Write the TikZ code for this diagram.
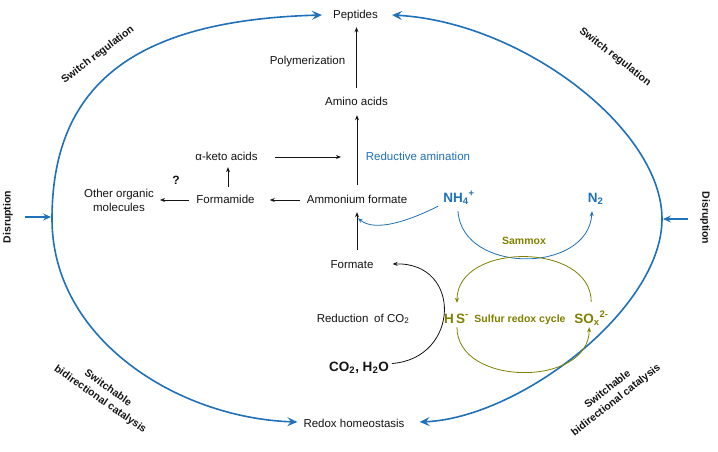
\documentclass[tikz,border=0pt]{standalone}
\usepackage{fontspec}
\setmainfont{Liberation Sans}
\usetikzlibrary{arrows.meta,calc}
\definecolor{cblue}{RGB}{31,113,185}
\definecolor{colive}{RGB}{128,128,0}
\definecolor{cblack}{RGB}{20,20,20}
\begin{document}
\begin{tikzpicture}[x=1pt,y=-1pt,
  lbl/.style={anchor=base,inner sep=0pt,font=\fontsize{11.5}{13}\selectfont,text height=8pt,text depth=2pt,text=cblack},
  olbl/.style={anchor=base,inner sep=0pt,font=\bfseries\fontsize{10.5}{12}\selectfont,text height=8pt,text depth=2pt,text=colive},
  chem/.style={anchor=base,inner sep=0pt,font=\bfseries\fontsize{13.5}{15}\selectfont,text height=10pt,text depth=3pt},
  side/.style={inner sep=0pt,font=\bfseries\fontsize{10.5}{13.5}\selectfont,align=center,text=cblack},
  arr/.style={draw=cblack,line width=0.8pt,-{Stealth[length=5pt,width=4pt]}},
  barr/.style={draw=cblue,line width=0.8pt,-{Stealth[length=5pt,width=4pt]}},
  oarr/.style={draw=colive,line width=0.8pt,-{Stealth[length=5pt,width=4pt]}},
  bigarr/.style={draw=cblue,line width=1.6pt,-{Stealth[length=10pt,width=9pt,inset=4pt]}},
  disarr/.style={draw=cblue,line width=1.1pt,-{Stealth[length=8pt,width=7pt,inset=3pt]}},
]
\useasboundingbox (0,0) rectangle (718,451);
\fill[white] (0,0) rectangle (718,451);

% ---- text nodes ----
\node[lbl] (pep) at (355.5,18) {Peptides};
\node[lbl] (poly) at (307.5,64) {Polymerization};
\node[lbl] (amino) at (356.5,105) {Amino acids};
\node[lbl] (keto) at (226.5,160) {α-keto acids};
\node[lbl,text=cblue] (redam) at (418,160) {Reductive amination};
\node[lbl,font=\bfseries\fontsize{12}{14}\selectfont] (q) at (176,184) {?};
\node[inner sep=0pt,font=\fontsize{11.5}{14}\selectfont,align=center,text=cblack] (other) at (119,200) {Other organic\\molecules};
\node[lbl] (fmd) at (225.5,203) {Formamide};
\node[lbl] (amf) at (357,203) {Ammonium formate};
\node[lbl] (fmt) at (352,268) {Formate};
\node[lbl] (red) at (363,322) {Reduction\hspace{2.5pt} of CO\textsubscript{2}};
\node[chem,text=cblack] (co2) at (359,371) {CO\textsubscript{2}, H\textsubscript{2}O};
\node[lbl] (redox) at (354,427) {Redox homeostasis};
\node[chem,text=cblue] (nh4) at (459,202) {NH\textsubscript{4}\textsuperscript{+}};
\node[chem,text=cblue] (n2) at (595.5,202) {N\textsubscript{2}};
\node[olbl] (sam) at (524,244) {Sammox};
\node[chem,text=colive] (hs) at (456.5,323) {H\,S\textsuperscript{-}};
\node[olbl] (sul) at (520,322) {Sulfur redox cycle};
\node[chem,text=colive] (sox) at (591.5,323) {SO\textsubscript{x}\textsuperscript{2-}};

% ---- side labels ----
\node[side,rotate=90] (disl) at (8,217) {Disruption};
\node[side,rotate=-90] (disr) at (705,218) {Disruption};
\node[side,rotate=37] (swl) at (98,55) {Switch regulation};
\node[side,rotate=-38] (swr) at (615,57) {Switch regulation};
\node[side,rotate=-35] (sbl) at (104,394) {Switchable\\bidirectional catalysis};
\node[side,rotate=38] (sbr) at (612,395) {Switchable\\bidirectional catalysis};

% ---- big blue cycle ----
\coordinate (L) at (52,219);
\coordinate (R) at (662,219);
\draw[bigarr] (L) .. controls +(0,-140) and +(-180,5) .. ([shift={(-11,0)}]pep.west);
\draw[bigarr] (R) .. controls +(0,-90) and +(130,7) .. ([shift={(14,0)}]pep.east);
\draw[bigarr] (L) .. controls +(0,120) and +(-120,-4) .. ([shift={(-6,-2)}]redox.west);
\draw[bigarr] (R) .. controls +(0,90) and +(100,-4) .. ([shift={(15,-2)}]redox.east);

% ---- disruption arrows ----
\draw[disarr] ([shift={(12,0)}]disl.south) -- ([shift={(-1,-2)}]L);
\draw[disarr] ([shift={(-12,1)}]disr.south) -- ([shift={(1,0)}]R);

% ---- black pathway arrows ----
\draw[arr,shorten <=9pt,shorten >=7pt] (amino.north) -- (amino.north |- pep.south);
\draw[arr,shorten <=10pt,shorten >=8pt] (amf.north) -- (amf.north |- amino.south);
\draw[arr,shorten <=10pt,shorten >=7pt] (amf.south |- fmt.north) -- (amf.south);
\draw[arr,shorten <=7pt,shorten >=15pt] (amf.west) -- (fmd.east);
\draw[arr,shorten <=7pt,shorten >=6pt] (fmd.west) -- (other.east |- fmd.west);
\draw[arr,shorten <=8pt,shorten >=5pt] ([xshift=2.5pt]fmd.north) -- ([xshift=2.5pt]fmd.north |- keto.south);
\draw[arr,shorten <=17pt,shorten >=16pt] (keto.east) -- (keto.east -| amf.north);
\draw[arr] ([shift={(3,-4)}]co2.east) .. controls +(68,-5) and +(70,-2) .. ([shift={(19,-1)}]fmt.east);

% ---- blue nitrogen arrows ----
\draw[barr] ([shift={(-5,1)}]nh4.south west) .. controls +(-30,15) and +(17,14) .. ([shift={(1,13)}]amf.south);
\draw[barr] ([shift={(-1,6)}]nh4.south) .. controls +(4,63) and +(-4,63) .. ([shift={(-3.5,6)}]n2.south);

% ---- olive sulfur cycle ----
\draw[oarr] ([shift={(17,-11)}]sox.north west) .. controls +(0,-60) and +(0,-61) .. ([shift={(13,-10)}]hs.north west);
\draw[oarr] ([shift={(13,1)}]hs.south west) .. controls +(0,60) and +(0,60) .. ([shift={(15,1)}]sox.south west);
\end{tikzpicture}
\end{document}
